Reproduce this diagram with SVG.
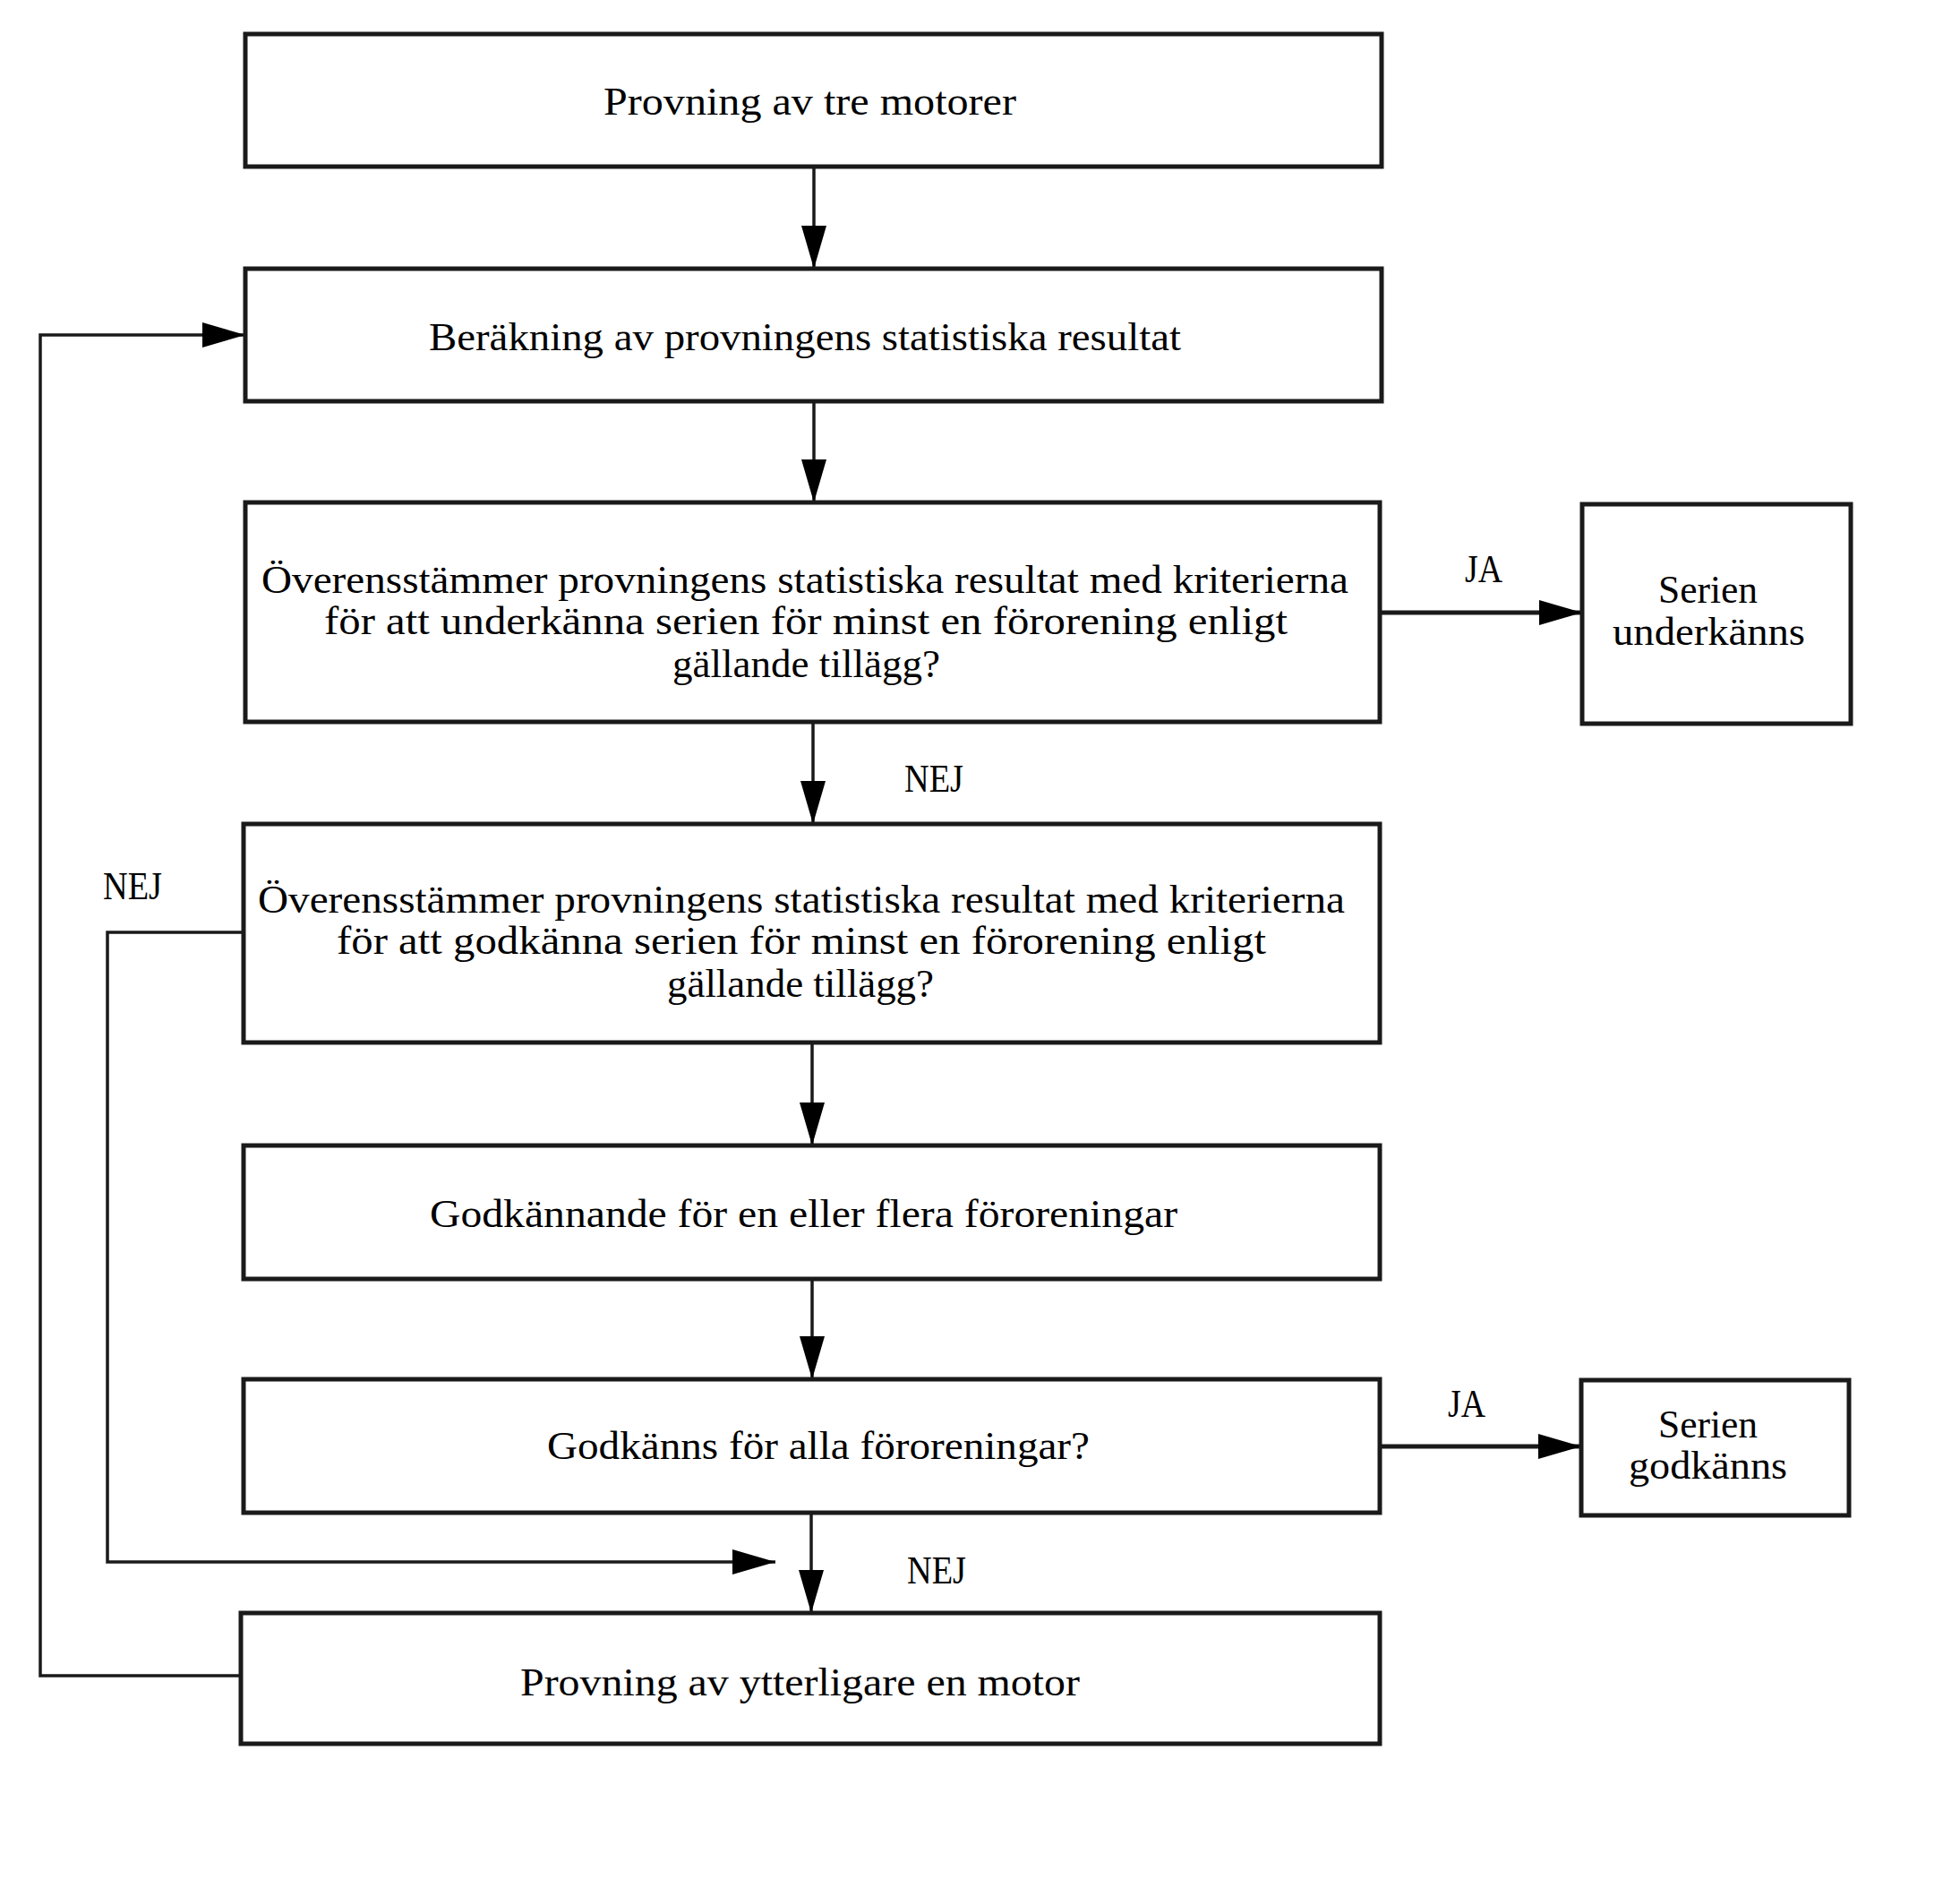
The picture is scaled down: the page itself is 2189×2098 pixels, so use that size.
<svg xmlns="http://www.w3.org/2000/svg" width="2189" height="2098" viewBox="0 0 2189 2098">
<style>
.box{fill:#fff;stroke:#1a1a1a;stroke-width:5}
.t{font-family:"Liberation Serif","Times New Roman",serif;font-size:45px;fill:#000}
.c{fill:none;stroke:#1a1a1a;stroke-width:3.5}
.ct{fill:none;stroke:#1a1a1a;stroke-width:5}
</style>
<defs>
<marker id="ah" markerUnits="userSpaceOnUse" markerWidth="50" markerHeight="30" refX="48" refY="14" orient="auto">
<path d="M0,0 L48,14 L0,28 z" fill="#000"/>
</marker>
</defs>
<rect width="2189" height="2098" fill="#fff"/>
<g id="connectors">
<line class="c" x1="909" y1="186" x2="909" y2="300" marker-end="url(#ah)"/>
<line class="c" x1="909" y1="448" x2="909" y2="561" marker-end="url(#ah)"/>
<line class="c" x1="908" y1="806" x2="908" y2="920" marker-end="url(#ah)"/>
<line class="c" x1="907" y1="1164" x2="907" y2="1279" marker-end="url(#ah)"/>
<line class="c" x1="907" y1="1428" x2="907" y2="1540" marker-end="url(#ah)"/>
<line class="c" x1="906" y1="1689" x2="906" y2="1801" marker-end="url(#ah)"/>
<line class="ct" x1="1543" y1="684" x2="1767" y2="684" marker-end="url(#ah)"/>
<line class="ct" x1="1541" y1="1615" x2="1766" y2="1615" marker-end="url(#ah)"/>
<polyline class="c" points="269,1871 45,1871 45,374 274,374" marker-end="url(#ah)"/>
<polyline class="c" points="272,1041 120,1041 120,1744 866,1744" marker-end="url(#ah)"/>
<text class="t" x="1657" y="650" text-anchor="middle" textLength="42" lengthAdjust="spacingAndGlyphs">JA</text>
<text class="t" x="1638" y="1582" text-anchor="middle" textLength="42" lengthAdjust="spacingAndGlyphs">JA</text>
<text class="t" x="1043" y="884" text-anchor="middle" textLength="66" lengthAdjust="spacingAndGlyphs">NEJ</text>
<text class="t" x="148" y="1004" text-anchor="middle" textLength="66" lengthAdjust="spacingAndGlyphs">NEJ</text>
<text class="t" x="1046" y="1768" text-anchor="middle" textLength="66" lengthAdjust="spacingAndGlyphs">NEJ</text>
</g>
<g id="n1">
<rect class="box" x="274" y="38" width="1269" height="148"/>
<text class="t" x="674" y="128" textLength="461" lengthAdjust="spacingAndGlyphs">Provning av tre motorer</text>
</g>
<g id="n2">
<rect class="box" x="274" y="300" width="1269" height="148"/>
<text class="t" x="479" y="391" textLength="840" lengthAdjust="spacingAndGlyphs">Beräkning av provningens statistiska resultat</text>
</g>
<g id="n3">
<rect class="box" x="274" y="561" width="1267" height="245"/>
<text class="t" x="292" y="662" textLength="1214" lengthAdjust="spacingAndGlyphs">Överensstämmer provningens statistiska resultat med kriterierna</text>
<text class="t" x="362" y="708" textLength="1076" lengthAdjust="spacingAndGlyphs">för att underkänna serien för minst en förorening enligt</text>
<text class="t" x="751" y="756" textLength="299" lengthAdjust="spacingAndGlyphs">gällande tillägg?</text>
</g>
<g id="n4">
<rect class="box" x="1767" y="563" width="300" height="245"/>
<text class="t" x="1852" y="673" textLength="111" lengthAdjust="spacingAndGlyphs">Serien</text>
<text class="t" x="1801" y="720" textLength="215" lengthAdjust="spacingAndGlyphs">underkänns</text>
</g>
<g id="n5">
<rect class="box" x="272" y="920" width="1269" height="244"/>
<text class="t" x="288" y="1019" textLength="1214" lengthAdjust="spacingAndGlyphs">Överensstämmer provningens statistiska resultat med kriterierna</text>
<text class="t" x="376" y="1065" textLength="1038" lengthAdjust="spacingAndGlyphs">för att godkänna serien för minst en förorening enligt</text>
<text class="t" x="745" y="1113" textLength="298" lengthAdjust="spacingAndGlyphs">gällande tillägg?</text>
</g>
<g id="n6">
<rect class="box" x="272" y="1279" width="1269" height="149"/>
<text class="t" x="480" y="1370" textLength="835" lengthAdjust="spacingAndGlyphs">Godkännande för en eller flera föroreningar</text>
</g>
<g id="n7">
<rect class="box" x="272" y="1540" width="1269" height="149"/>
<text class="t" x="611" y="1629" textLength="606" lengthAdjust="spacingAndGlyphs">Godkänns för alla föroreningar?</text>
</g>
<g id="n8">
<rect class="box" x="1766" y="1541" width="299" height="151"/>
<text class="t" x="1852" y="1605" textLength="111" lengthAdjust="spacingAndGlyphs">Serien</text>
<text class="t" x="1819" y="1651" textLength="177" lengthAdjust="spacingAndGlyphs">godkänns</text>
</g>
<g id="n9">
<rect class="box" x="269" y="1801" width="1272" height="146"/>
<text class="t" x="581" y="1893" textLength="625" lengthAdjust="spacingAndGlyphs">Provning av ytterligare en motor</text>
</g>
</svg>
